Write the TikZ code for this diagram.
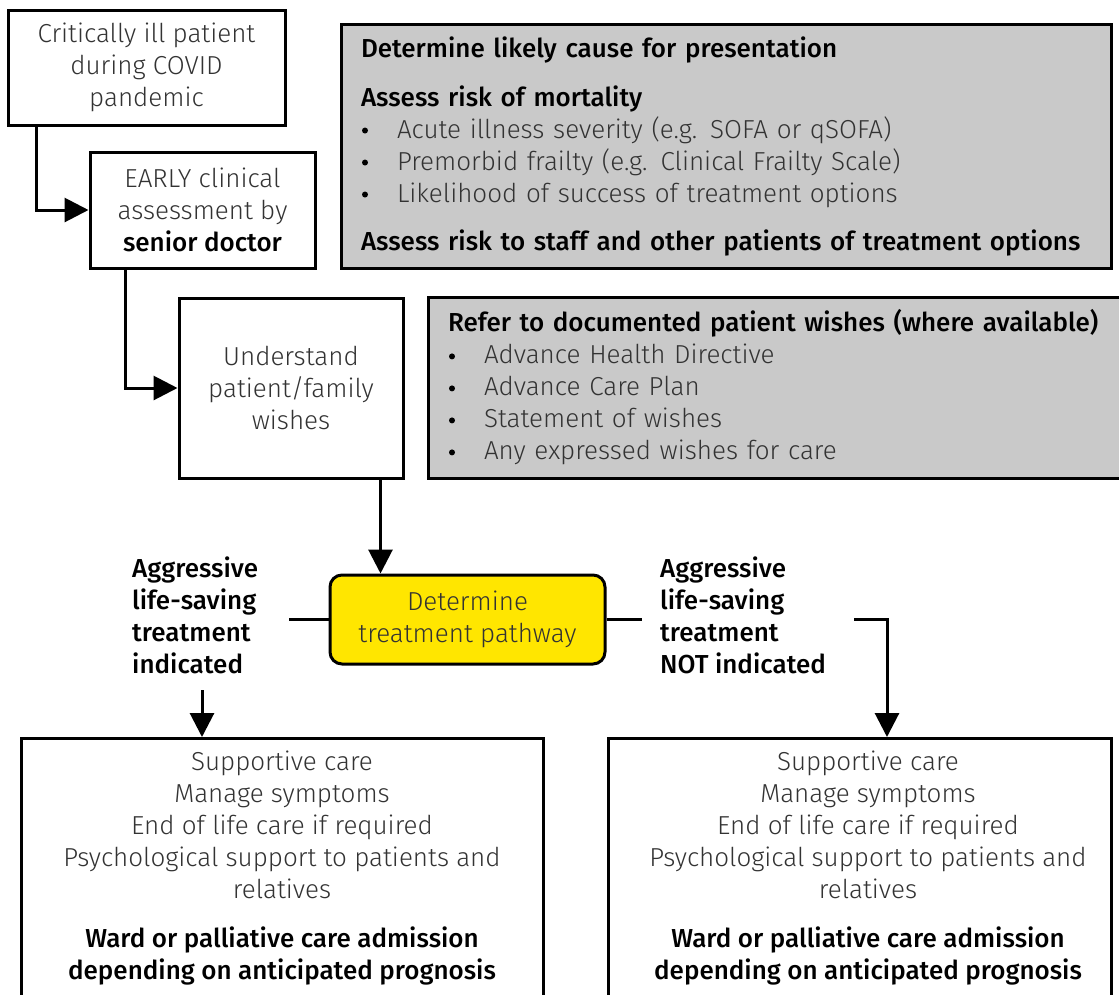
\documentclass[tikz,border=0pt]{standalone}
\usepackage{fontspec}
\setmainfont{Fira Sans Light}[BoldFont={Fira Sans Medium}]
\usetikzlibrary{arrows.meta,calc,positioning}
\definecolor{boxgray}{HTML}{C9C9C9}
\definecolor{lighttext}{HTML}{333333}
\definecolor{pathyellow}{HTML}{FFE600}
\newcommand{\bul}{\makebox[36pt][l]{\hspace{1pt}\raisebox{4.5pt}{\tikz\fill[black] (0,0) circle (3pt);}}}
\begin{document}
\begin{tikzpicture}[x=1pt,y=-1pt,
  every node/.style={font=\fontsize{26}{32}\selectfont, text=lighttext},
  wbox/.style={draw=black, line width=3pt, fill=white, align=center, inner sep=0pt},
  gbox/.style={draw=black, line width=3pt, fill=boxgray, align=left, inner xsep=20pt, inner ysep=0pt},
  ybox/.style={draw=black, line width=3pt, fill=pathyellow, rounded corners=12pt, align=center, inner sep=0pt},
  lbl/.style={align=left, text=black, font=\fontsize{26}{32}\selectfont\bfseries, inner sep=0pt},
  conn/.style={draw=black, line width=3pt},
  arr/.style={conn, -{Triangle[length=24pt,width=24pt]}}]
\useasboundingbox (0,0) rectangle (1119,994);
\fill[white] (0,0) rectangle (1119,994);

\node[wbox, minimum width=277pt, minimum height=115pt] (b1) at (146.5,67.5)
  {Critically ill patient\\during COVID\\pandemic};
\node[wbox, minimum width=225pt, minimum height=116pt] (b2) at (202.5,210)
  {EARLY clinical\\assessment by\\\textcolor{black}{\bfseries senior doctor}};
\node[wbox, minimum width=224pt, minimum height=180pt] (b3) at (291,388)
  {Understand\\patient/family\\wishes};

\node[gbox, minimum width=770pt, minimum height=244pt, text width=730pt] (g1) at (726,146)
  {\textcolor{black}{\bfseries Determine likely cause for presentation}\\[17pt]
   \textcolor{black}{\bfseries Assess risk of mortality}\\
   \bul Acute illness severity (e.g. SOFA or qSOFA)\\
   \bul Premorbid frailty (e.g. Clinical Frailty Scale)\\
   \bul Likelihood of success of treatment options\\[16pt]
   \textcolor{black}{\bfseries Assess risk to staff and other patients of treatment options}};

\node[gbox, minimum width=720pt, minimum height=181pt, text width=680pt] (g2) at (788,387.5)
  {\textcolor{black}{\bfseries Refer to documented patient wishes (where available)}\\
   \bul Advance Health Directive\\
   \bul Advance Care Plan\\
   \bul Statement of wishes\\
   \bul Any expressed wishes for care};

\node[ybox, minimum width=275pt, minimum height=89pt] (y) at (467.5,619.5)
  {Determine\\treatment pathway};

\node[lbl, anchor=west] (ll) at (132,615)
  {Aggressive\\life-saving\\treatment\\indicated};
\node[lbl, anchor=west] (rl) at (660,615)
  {Aggressive\\life-saving\\treatment\\NOT indicated};

\node[wbox, minimum width=522pt, minimum height=300pt, anchor=north] (bl) at (282,737) {};
\node[wbox, minimum width=503pt, minimum height=300pt, anchor=north] (br) at (859.5,737) {};

\node[align=center, inner sep=0pt, anchor=north] (blt) at ($(bl.north)+(0,14)$)
  {Supportive care\\Manage symptoms\\End of life care if required\\Psychological support to patients and\\relatives\\[17pt]
   \textcolor{black}{\bfseries Ward or palliative care admission}\\\textcolor{black}{\bfseries depending on anticipated prognosis}};
\node[align=center, inner sep=0pt, anchor=north] (brt) at ($(br.north)+(8.5,14)$)
  {Supportive care\\Manage symptoms\\End of life care if required\\Psychological support to patients and\\relatives\\[17pt]
   \textcolor{black}{\bfseries Ward or palliative care admission}\\\textcolor{black}{\bfseries depending on anticipated prognosis}};

\draw[arr] ($(b1.south west)+(30,0)$) |- (b2.west);
\draw[arr] ($(b2.south west)+(37,0)$) |- (b3.west);
\coordinate (dstart) at ($(b3.south east)+(-24,0)$);
\draw[arr] (dstart) -- (dstart |- y.north);

\coordinate (lend) at ($(y.west)+(-40,0)$);
\draw[conn] (y.west) -- (lend);
\coordinate (lstart) at (202,690);
\draw[arr] (lstart) -- (lstart |- bl.north);

\coordinate (rend) at ($(y.east)+(35,0)$);
\draw[conn] (y.east) -- (rend);
\coordinate (rstart) at (854,619.5);
\coordinate (rtarget) at ($(br.north)+(27.5,0)$);
\draw[arr] (rstart) -| (rtarget);
\end{tikzpicture}
\end{document}
